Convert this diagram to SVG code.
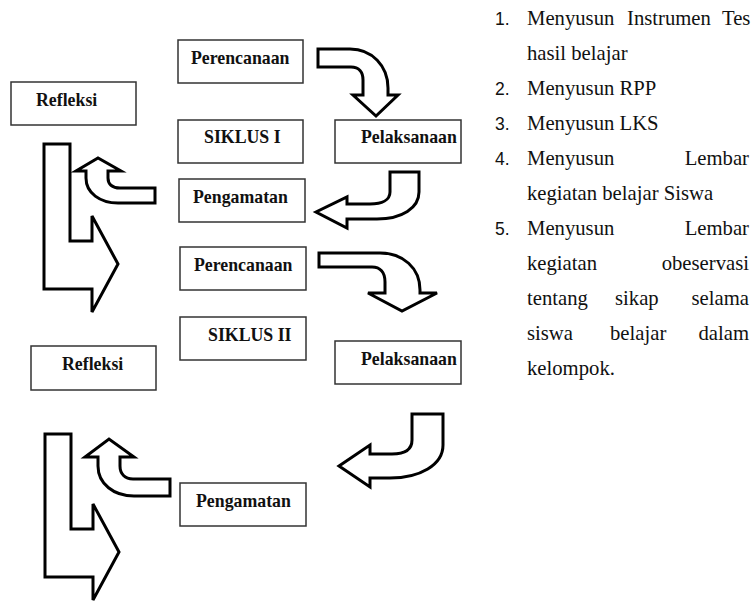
<svg xmlns="http://www.w3.org/2000/svg" width="751" height="603" viewBox="0 0 751 603">
<style>
.box{fill:#fff;stroke:#333;stroke-width:1.5}
.lbl{font-family:"Liberation Serif","Times New Roman",serif;font-weight:bold;font-size:17.8px;fill:#111}
.arr{fill:#fff;stroke:#000;stroke-width:3;stroke-linejoin:miter}
.li{font-family:"Liberation Serif","Times New Roman",serif;font-size:20.7px;fill:#111}
.num{font-family:"Liberation Sans",Arial,sans-serif;font-size:17.5px;fill:#111}
</style>
<rect width="751" height="603" fill="#fff"/>
<g id="connectors">
<path class="arr" d="M318,49 L350,49 C372,49 388,66 388,88 L388,95 L398,95 L376,116 L353,95 L363,95 L363,80 C363,72 359,67 351,67 L318,67 Z"/>
<path class="arr" d="M419,172 L419,192 C419,208 402,219 377,219 L347,219 L347,228 L316,212 L347,197 L347,204 L370,204 C382,204 390,200 390,192 L390,172 Z"/>
<path class="arr" d="M155,188 L120,188 C112,188 108,184 108,178 L108,171 L121,171 L98,158 L76,171 L86,171 L86,178 C86,193 100,203 118,203 L155,203 Z"/>
<path class="arr" d="M44,144 L70,144 L70,241 L92,241 L92,216 L118,264 L92,312 L92,289 L44,289 Z"/>
<path class="arr" d="M319,253 L380,253 C403,253 420,268 420,290 L420,293 L437,293 L402,311 L368,293 L385,293 L385,282 C385,272 380,267 372,267 L319,267 Z"/>
<path class="arr" d="M443,414 L443,445 C443,465 420,478 390,478 L370,478 L370,487 L339,466 L370,445 L370,454 L392,454 C405,454 412,450 412,440 L412,414 Z"/>
<path class="arr" d="M170,479 L133,479 C125,479 120,474 120,466 L120,457 L134,457 L109,439 L85,457 L98,457 L98,466 C98,484 114,496 134,496 L170,496 Z"/>
<path class="arr" d="M45,434 L71,434 L71,529 L93,529 L93,504 L119,552 L93,600 L93,577 L45,577 Z"/>
</g>
<g id="perencanaan1"><rect class="box" x="178" y="40" width="125" height="43"/><text class="lbl" x="191" y="64">Perencanaan</text></g>
<g id="refleksi1"><rect class="box" x="11" y="82" width="125" height="43"/><text class="lbl" x="36" y="106">Refleksi</text></g>
<g id="siklus1"><rect class="box" x="178" y="120" width="125" height="43"/><text class="lbl" x="204" y="143">SIKLUS I</text></g>
<g id="pelaksanaan1"><rect class="box" x="335" y="120" width="126" height="43"/><text class="lbl" x="361" y="143">Pelaksanaan</text></g>
<g id="pengamatan1"><rect class="box" x="179" y="179" width="126" height="43"/><text class="lbl" x="193" y="203">Pengamatan</text></g>
<g id="perencanaan2"><rect class="box" x="180" y="247" width="126" height="43"/><text class="lbl" x="194" y="271">Perencanaan</text></g>
<g id="siklus2"><rect class="box" x="180" y="317" width="126" height="43"/><text class="lbl" x="208" y="341">SIKLUS II</text></g>
<g id="refleksi2"><rect class="box" x="31" y="346" width="125" height="44"/><text class="lbl" x="62" y="370">Refleksi</text></g>
<g id="pelaksanaan2"><rect class="box" x="335" y="341" width="126" height="43"/><text class="lbl" x="361" y="365">Pelaksanaan</text></g>
<g id="pengamatan2"><rect class="box" x="180" y="483" width="126" height="43"/><text class="lbl" x="196" y="507">Pengamatan</text></g>
<g id="list">
<text class="num" x="495" y="25">1.</text>
<text class="li" y="25"><tspan x="527">Menyusun</tspan><tspan x="627">Instrumen</tspan><tspan x="722">Tes</tspan></text>
<text class="li" x="527" y="60">hasil belajar</text>
<text class="num" x="495" y="95">2.</text>
<text class="li" x="527" y="95">Menyusun RPP</text>
<text class="num" x="495" y="130">3.</text>
<text class="li" x="527" y="130">Menyusun LKS</text>
<text class="num" x="495" y="165">4.</text>
<text class="li" x="527" y="165">Menyusun</text>
<text class="li" x="749" y="165" text-anchor="end">Lembar</text>
<text class="li" x="527" y="200">kegiatan belajar Siswa</text>
<text class="num" x="495" y="235">5.</text>
<text class="li" x="527" y="235">Menyusun</text>
<text class="li" x="749" y="235" text-anchor="end">Lembar</text>
<text class="li" x="527" y="270">kegiatan</text>
<text class="li" x="749" y="270" text-anchor="end">obeservasi</text>
<text class="li" x="527" y="305">tentang</text>
<text class="li" x="615" y="305">sikap</text>
<text class="li" x="749" y="305" text-anchor="end">selama</text>
<text class="li" x="527" y="340">siswa</text>
<text class="li" x="610" y="340">belajar</text>
<text class="li" x="749" y="340" text-anchor="end">dalam</text>
<text class="li" x="527" y="375">kelompok.</text>
</g>
</svg>
